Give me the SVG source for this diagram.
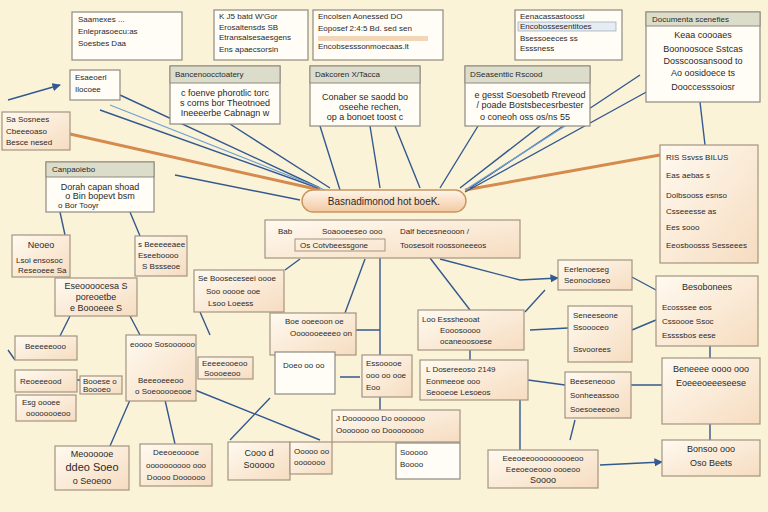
<svg xmlns="http://www.w3.org/2000/svg" width="768" height="512" viewBox="0 0 768 512">
<defs>
<linearGradient id="g" x1="0" y1="0" x2="1" y2="1"><stop offset="0" stop-color="#fffaf0"/><stop offset="1" stop-color="#f6dcc0"/></linearGradient>
<linearGradient id="c" x1="0" y1="0" x2="0" y2="1"><stop offset="0" stop-color="#fff6ea"/><stop offset="1" stop-color="#f2c9a2"/></linearGradient>
<marker id="a" viewBox="0 0 10 10" refX="9" refY="5" markerWidth="6" markerHeight="6" orient="auto"><path d="M0,0L10,5L0,10z" fill="#34598f"/></marker>
</defs>
<style>
.b{fill:url(#g);stroke:#a39480;stroke-width:1.2}
.w{fill:#fffdf6;stroke:#8f8a80;stroke-width:1.2}
.h{fill:#dcdccb;stroke:#8f8a80;stroke-width:1}
.l{stroke:#34598f;stroke-width:1.4;fill:none}
.lo{stroke:#d58a4e;stroke-width:3;fill:none}
.lb{stroke:#6fa0d0;stroke-width:1.2;fill:none}
text{font-family:"Liberation Sans",Arial,sans-serif;font-size:8px;fill:#2a2a2a}
.t{font-size:9px;text-anchor:middle}
</style>
<rect width="768" height="512" fill="#fbf3d8"/>
<g id="connectors">
<path class="lo" d="M70,134L320,190"/>
<path class="lo" d="M465,190L660,155"/>
<path class="l" d="M120,95L320,188M100,110L318,188M175,175L300,200"/>
<path class="lb" d="M110,105L325,190"/>
<path class="l" d="M230,124L330,188M320,126L340,190M370,126L380,188M395,126L420,188"/>
<path class="l" d="M478,126L440,188M580,95L460,188M640,75L470,188M650,90L465,192"/>
<path class="lb" d="M590,110L465,190"/>
<path class="l" d="M8,100L60,85" marker-end="url(#a)"/>
<path class="l" d="M700,102L705,145M440,259L520,280L558,278" marker-end="url(#a)"/>
<path class="l" d="M630,276L656,290M632,330L656,320M530,330L568,328M528,380L565,385M630,385L662,385M600,465L662,462" marker-end="url(#a)"/>
<path class="l" d="M60,212L65,235M130,212L140,236M70,316L60,336M130,316L140,335M200,312L210,335M380,258L380,355M365,259L345,313M300,259L285,270M430,258L470,310M355,330L380,330M545,290L525,312M470,350L470,360M520,400L520,450M380,397L380,410M575,420L570,440M710,424L710,440M710,346L710,358M270,398L230,440M130,400L110,446M165,400L175,444M195,390L320,440M340,377L360,377"/>
<path class="l" d="M8,350L15,360M77,380L80,380"/>
</g>
<g id="n1"><rect class="w" x="72" y="12" width="110" height="48"/><text x="78" y="22">Saamexes  ...</text><text x="78" y="34">Enleprasoecu:as</text><text x="78" y="46">Soesbes Daa</text></g>
<g id="n2"><rect class="w" x="214" y="10" width="94" height="50"/><text x="219" y="19">K  J5 batd  W'Gor</text><text x="219" y="30">Erosaltensds SB</text><text x="219" y="40">Etransalsesaesgens</text><text x="219" y="52">Ens apaecsorsin</text></g>
<g id="n3"><rect class="w" x="313" y="10" width="130" height="50"/><text x="318" y="19">Encolsen Aonessed  DO</text><text x="318" y="31">Eoposef 2:4:5 Bd. sed sen</text><rect x="318" y="36" width="110" height="5" fill="#f2d6b8"/><text x="318" y="49">Encobsesssonmoecaas.lt</text></g>
<g id="n4"><rect class="w" x="515" y="10" width="107" height="50"/><text x="520" y="19">Eenacassastoossi</text><rect x="518" y="22" width="98" height="9" fill="#e6ecf2" stroke="#8899aa" stroke-width="0.6"/><text x="520" y="29">Encobossesentitoes</text><text x="520" y="41">Bsessoeeces ss</text><text x="520" y="51">Esssness</text></g>
<g id="n5"><rect class="w" x="646" y="12" width="114" height="90"/><rect class="h" x="646" y="12" width="114" height="14"/><text x="652" y="22">Documenta scenefies</text><text class="t" x="703" y="38">Keaa coooaes</text><text class="t" x="703" y="52">Boonoosoce Sstcas</text><text class="t" x="703" y="64">Dosscoosansood to</text><text class="t" x="703" y="76">Ao oosidoece ts</text><text class="t" x="703" y="90">Dooccesssoiosr</text></g>
<g id="n6"><rect class="w" x="70" y="70" width="50" height="30"/><text x="75" y="80">Esaeoerl</text><text x="75" y="92">Ilocoee</text></g>
<g id="n7"><rect class="w" x="170" y="66" width="110" height="58"/><rect class="h" x="170" y="66" width="110" height="17"/><text x="175" y="77">Bancenoocctoatery</text><text class="t" x="225" y="96">c foenve  phorotlic torc</text><text class="t" x="225" y="106">s corns bor  Theotnoed</text><text class="t" x="225" y="116">Ineeeerbe  Cabnagn w</text></g>
<g id="n8"><rect class="w" x="310" y="66" width="110" height="60"/><rect class="h" x="310" y="66" width="110" height="17"/><text x="315" y="77">Dakcoren X/Tacca</text><text class="t" x="365" y="100">Conaber se saodd  bo</text><text class="t" x="370" y="110">oseehe rechen,</text><text class="t" x="365" y="120">op a bonoet toost c</text></g>
<g id="n9"><rect class="w" x="465" y="66" width="125" height="60"/><rect class="h" x="465" y="66" width="125" height="17"/><text x="470" y="77">DSeasenttic Rscood</text><text class="t" x="530" y="98">e gesst Soesobetb Rreveod</text><text class="t" x="530" y="108">/ poade Bostsbecesrbester</text><text class="t" x="525" y="120">o coneoh oss os/ns 55</text></g>
<g id="n10"><rect class="b" x="2" y="112" width="68" height="38"/><text x="6" y="122">Sa Sosnees</text><text x="6" y="134">Cbeeeoaso</text><text x="6" y="145">Besce nesed</text></g>
<g id="n11"><rect class="w" x="46" y="162" width="108" height="50"/><rect class="h" x="46" y="162" width="108" height="15"/><text x="52" y="172">Canpaoiebo</text><text class="t" x="100" y="190">Dorah capan shoad</text><text class="t" x="100" y="199">o Bin bopevt bsm</text><text x="58" y="208">o Bor Tooyr</text></g>
<g id="n12"><rect x="302" y="190" width="164" height="22" rx="11" fill="url(#c)" stroke="#c9955f" stroke-width="1.4"/><text x="384" y="205" class="t" style="font-size:10px">Basnadimonod hot boeK.</text></g>
<g id="n13"><rect class="b" x="265" y="220" width="255" height="38"/><text x="278" y="234">Bab</text><text x="322" y="234">Soaooeeseo ooo</text><text x="400" y="234">Dalf becesneooon /</text><rect x="295" y="239" width="90" height="12" fill="none" stroke="#a39480"/><text x="300" y="248">Os Cotvbeessgone</text><text x="400" y="248">Toosesoit roossoneeeos</text></g>
<g id="n14"><rect class="b" x="660" y="145" width="98" height="118"/><text x="666" y="160">RIS Ssvss   BILUS</text><text x="666" y="178">Eas aebas s</text><text x="666" y="198">Dolbsooss esnso</text><text x="666" y="214">Csseeesse as</text><text x="666" y="230">Ees sooo</text><text x="666" y="248">Eeosboosss Sesseees</text></g>
<g id="n15"><rect class="b" x="558" y="260" width="74" height="30"/><text x="564" y="272">Eerlenoeseg</text><text x="564" y="283">Seonocioseo</text></g>
<g id="n16"><rect class="b" x="656" y="276" width="102" height="70"/><text class="t" x="707" y="290">Besobonees</text><text x="662" y="310">Ecosssee eos</text><text x="662" y="324">Cssoooe Ssoc</text><text x="662" y="338">Essssbos eese</text></g>
<g id="n17"><rect class="b" x="568" y="306" width="64" height="56"/><text x="573" y="318">Seneeseone</text><text x="573" y="330">Ssoooceo</text><text x="573" y="352">Ssvoorees</text></g>
<g id="n18"><rect class="b" x="418" y="310" width="106" height="40"/><text x="422" y="322">Loo  Esssheooat</text><text x="440" y="333">Eooosoooo</text><text x="440" y="344">ocaneoosoese</text></g>
<g id="n19"><rect class="b" x="420" y="360" width="108" height="40"/><text x="426" y="372">L Dosereeoso 2149</text><text x="426" y="384">Eonmeeoe ooo</text><text x="426" y="395">Seooeoe Lesoeos</text></g>
<g id="n20"><rect class="b" x="565" y="372" width="66" height="46"/><text x="570" y="384">Beeseneooo</text><text x="570" y="398">Sonheeassoo</text><text x="570" y="412">Soesoeeeoeo</text></g>
<g id="n21"><rect class="b" x="662" y="358" width="98" height="66"/><text class="t" x="711" y="372">Beneeee oooo ooo</text><text class="t" x="711" y="386">Eoeeeoeeeseese</text></g>
<g id="n22"><rect class="b" x="662" y="440" width="98" height="36"/><text class="t" x="711" y="452">Bonsoo ooo</text><text class="t" x="711" y="466">Oso Beets</text></g>
<g id="n23"><rect class="b" x="12" y="235" width="58" height="42"/><text class="t" x="41" y="248">Neoeo</text><text x="16" y="263">Lsoi ensosoc</text><text x="18" y="273">Reseoeee Sa</text></g>
<g id="n24"><rect class="b" x="135" y="236" width="52" height="40"/><text x="138" y="247">s Beeeeeaee</text><text x="138" y="258">Eseeboooo</text><text x="142" y="269">S Bssseoe</text></g>
<g id="n25"><rect class="b" x="55" y="278" width="82" height="38"/><text class="t" x="96" y="289">Eseoooocesa S</text><text class="t" x="96" y="300">poreoetbe</text><text class="t" x="96" y="311">e Boooeee S</text></g>
<g id="n26"><rect class="b" x="194" y="270" width="90" height="42"/><text x="198" y="281">Se Booseceseei  oooe</text><text x="206" y="294">Soo ooooe ooe</text><text x="208" y="306">Lsoo Loeess</text></g>
<g id="n27"><rect class="b" x="270" y="313" width="86" height="42"/><text x="285" y="324">Boe ooeeoon oe</text><text x="290" y="336">Ooooooeeeeo on</text></g>
<g id="n28"><rect class="b" x="15" y="336" width="62" height="24"/><text x="25" y="349">Beeeeeooo</text></g>
<g id="n29"><rect class="b" x="15" y="370" width="62" height="22"/><text x="20" y="384">Reoeeeood</text></g>
<g id="n30"><rect class="b" x="16" y="395" width="60" height="26"/><text x="22" y="405">Esg oooee</text><text x="26" y="416">oooooooeoo</text></g>
<g id="n31"><rect class="b" x="80" y="376" width="42" height="18"/><text x="83" y="384">Booese o</text><text x="83" y="392">Boooeo</text></g>
<g id="n32"><rect class="b" x="126" y="335" width="70" height="66"/><text x="130" y="347">eoooo Sosoooooo</text><text x="138" y="383">Beeeoeeeoo</text><text x="135" y="394">o Soeooooeooe</text></g>
<g id="n33"><rect class="b" x="198" y="357" width="55" height="22"/><text x="202" y="366">Eeeeeooeoo</text><text x="204" y="376">Soooeeoo</text></g>
<g id="n34"><rect class="w" x="275" y="352" width="60" height="42"/><text x="283" y="368">Doeo oo oo</text></g>
<g id="n35"><rect class="b" x="362" y="355" width="50" height="42"/><text x="366" y="366">Essooooe</text><text x="366" y="378">ooo oo ooe</text><text x="366" y="390">Eoo</text></g>
<g id="n36"><rect class="b" x="332" y="410" width="128" height="32"/><text x="336" y="421">J Dooooooo Do ooooooo</text><text x="336" y="433">Ooooooo  oo  Doooooooo</text></g>
<g id="n37"><rect class="w" x="396" y="443" width="64" height="36"/><text x="400" y="455">Sooooo</text><text x="400" y="467">Boooo</text></g>
<g id="n38"><rect class="b" x="55" y="446" width="74" height="44"/><text class="t" x="92" y="457">Meoooooe</text><text class="t" x="92" y="471" style="font-size:11px">ddeo  Soeo</text><text class="t" x="92" y="484">o Seoeoo</text></g>
<g id="n39"><rect class="b" x="140" y="444" width="72" height="42"/><text class="t" x="176" y="455" style="font-size:8px">Deeoeooooe</text><text class="t" x="176" y="468" style="font-size:8px">oooooooooo ooo</text><text class="t" x="176" y="480" style="font-size:8px">Doooo Doooooo</text></g>
<g id="n40"><rect class="b" x="228" y="442" width="62" height="38"/><text class="t" x="259" y="456">Cooo d</text><text class="t" x="259" y="468">Sooooo</text></g>
<g id="n41"><rect class="b" x="290" y="442" width="42" height="32"/><text x="294" y="454">Ooooo oo</text><text x="294" y="465">ooooooo</text></g>
<g id="n42"><rect class="b" x="488" y="450" width="110" height="38"/><text class="t" x="543" y="461" style="font-size:8px">Eeeoeeoooooooooeoo</text><text class="t" x="543" y="472" style="font-size:8px">Eeeoeoeooo oooeoo</text><text class="t" x="543" y="483">Soooo</text></g>
</svg>
